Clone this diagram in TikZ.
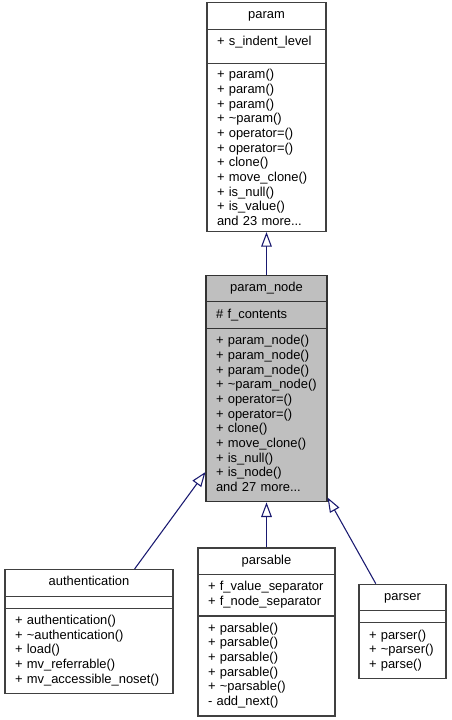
\documentclass[tikz,border=0pt]{standalone}
\usepackage{fontspec}
\setmainfont{Liberation Sans}
\usepackage{tikz}
\usetikzlibrary{arrows.meta, shapes.multipart, positioning}
\usepackage{xcolor}
\definecolor{edgeblue}{HTML}{191970}
\definecolor{boxline}{HTML}{404040}

\tikzset{
  classbox/.style={rectangle split, rectangle split parts=3, draw=boxline,
    line width=0.8pt, fill=white, align=left, inner xsep=7.5pt, inner ysep=4.1pt,
    rectangle split empty part height=11pt,
    font=\fontsize{9.7}{11}\selectfont},
  inherit/.style={draw=edgeblue, line width=0.8pt,
    -{Triangle[open, length=11pt, width=8pt, fill=white]}}
}

\begin{document}
\begin{tikzpicture}[x=0.75pt, y=-0.75pt]
\useasboundingbox (0,0) rectangle (451,720);

\node[classbox, text width=74.25pt] (param) at (266.5,117) {\strut\hfill param\hfill\strut
  \nodepart{two}\strut + s\_indent\_level\rule[-9pt]{0pt}{1pt}
  \nodepart{three}+ param()\\ + param()\\ + param()\\ + \textasciitilde param()\\
  + operator=()\\ + operator=()\\ + clone()\\ + move\_clone()\\ + is\_null()\\
  + is\_value()\\ and 23 more...};

\node[classbox, fill=black!25, draw=black!80, text width=75.75pt] (pnode) at (266.5,388.5) {\strut\hfill param\_node\hfill\strut
  \nodepart{two}\strut \# f\_contents
  \nodepart{three}\strut + param\_node()\\ + param\_node()\\ + param\_node()\\
  + \textasciitilde param\_node()\\ + operator=()\\ + operator=()\\ + clone()\\
  + move\_clone()\\ + is\_null()\\ + is\_node()\\ and 27 more...\strut};

\node[classbox, text width=111pt] (auth) at (89,631.5) {\strut\hfill authentication\hfill\strut
  \nodepart{two}
  \nodepart{three}\strut + authentication()\\ + \textasciitilde authentication()\\
  + load()\\ + mv\_referrable()\\ + mv\_accessible\_noset()\strut};

\node[classbox, text width=87.75pt] (parsable) at (266.5,632) {\strut\hfill parsable\hfill\strut
  \nodepart{two}\strut + f\_value\_separator\\ + f\_node\_separator\strut
  \nodepart{three}\strut + parsable()\\ + parsable()\\ + parsable()\\ + parsable()\\
  + \textasciitilde parsable()\\ - add\_next()\strut};

\node[classbox, text width=50.25pt] (parser) at (402.5,631.5) {\strut\hfill parser\hfill\strut
  \nodepart{two}
  \nodepart{three}\strut + parser()\\ + \textasciitilde parser()\\ + parse()\strut};

\draw[inherit] (pnode) -- (param);
\draw[inherit] (auth) -- (pnode);
\draw[inherit] (parsable) -- (pnode);
\draw[inherit] (parser) -- (pnode);
\end{tikzpicture}
\end{document}
